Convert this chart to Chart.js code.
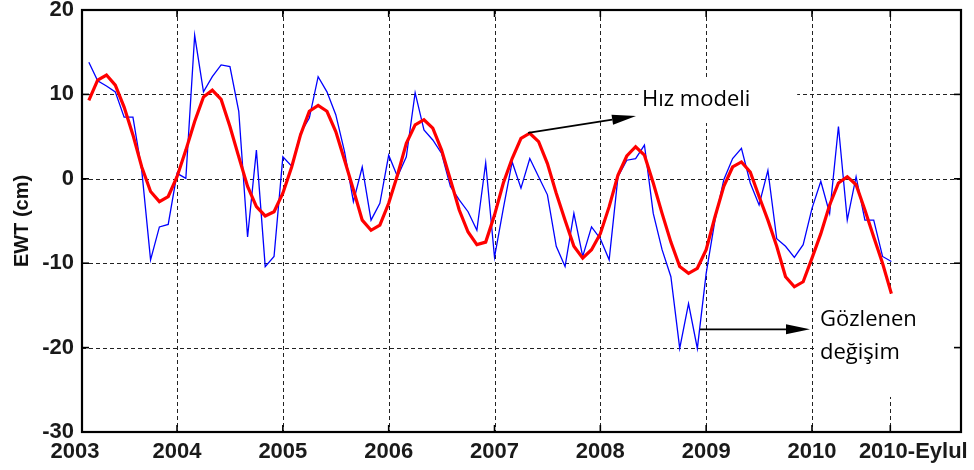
<!DOCTYPE html>
<html>
<head>
<meta charset="utf-8">
<script src="https://cdn.jsdelivr.net/npm/chart.js@4.4.0/dist/chart.umd.min.js"></script>
<style>
  html, body { margin: 0; padding: 0; background: #fff; }
  #wrap { width: 974px; height: 470px; }
</style>
</head>
<body>
<div id="wrap"><canvas id="ewt-chart" width="974" height="470"></canvas></div>
<script>
// monthly samples, 2003-03 .. 2010-10
const firstMonth = [2003, 3];
const monthCount = 92;

// observed EWT change (cm), blue
const observed = [
  13.8, 11.6, 11.0, 10.3, 7.3, 7.3, 1.0, -9.6, -5.7, -5.4,
  0.65, 0.05, 17.0, 10.3, 12.1, 13.5, 13.3, 8.0, -6.9, 3.4,
  -10.4, -9.2, 2.6, 1.5, 5.4, 7.2, 12.1, 10.3, 7.6, 3.2,
  -2.7, 1.4, -4.9, -2.9, 2.8, 0.25, 2.6, 10.2, 5.8, 4.6,
  3.0, -0.9, -2.5, -3.9, -6.1, 1.9, -9.3, -3.5, 2.0, -1.1,
  2.4, 0.25, -1.9, -8.0, -10.4, -4.1, -9.2, -5.7, -7.1, -9.6,
  0.25, 2.2, 2.4, 4.0, -4.1, -8.4, -11.6, -20.1, -14.8, -20.1,
  -11.2, -4.9, -0.1, 2.4, 3.6, -0.5, -3.1, 1.0, -7.1, -8.0,
  -9.3, -7.8, -3.5, -0.3, -4.1, 6.2, -4.9, 0.25, -4.9, -4.9,
  -9.2, -9.8
];

// velocity model (cm), red
const model = [
  9.3, 11.7, 12.3, 11.1, 8.5, 5.2, 1.4, -1.5, -2.7, -2.1,
  0.25, 3.4, 6.8, 9.7, 10.5, 9.4, 6.2, 2.6, -0.9, -3.3,
  -4.4, -3.9, -1.7, 1.4, 5.2, 8.0, 8.7, 8.0, 5.6, 2.2,
  -1.3, -4.9, -6.1, -5.5, -2.9, 0.45, 4.2, 6.4, 7.0, 6.0,
  3.4, -0.1, -3.7, -6.3, -7.8, -7.5, -4.3, -0.5, 2.4, 4.8,
  5.4, 4.4, 1.8, -1.7, -4.9, -8.0, -9.4, -8.4, -6.5, -3.3,
  0.45, 2.7, 3.8, 2.8, -0.5, -4.1, -7.5, -10.4, -11.2, -10.6,
  -8.4, -4.5, -0.9, 1.4, 2.0, 0.8, -2.1, -4.9, -8.0, -11.6,
  -12.8, -12.2, -9.4, -6.5, -3.1, -0.5, 0.25, -0.7, -3.7, -6.9,
  -10.0, -13.6
];

// x axis ticks (decimal years) and their labels
const xTickValues = [2003.102, 2004, 2005, 2006, 2007, 2008, 2009, 2010, 2010.74];
const xTickLabels = ['2003', '2004', '2005', '2006', '2007', '2008', '2009', '2010', '2010-Eylul'];
const xRange = [2003.102, 2011.408];
const yRange = [-30, 20];

// annotations (data units)
const noteTexts = [['Hız modeli'], ['Gözlenen', 'değişim']];
const noteAnchors = [[2008.394, 9.34], [2010.076, -16.73]];
const noteBoxes = [[2008.36, 11.71, 2009.86, 6.61], [2010.02, -13.89, 2011.408, -25.85]];
const arrowFrom = [[2007.317, 5.43], [2008.942, -17.83]];
const arrowTo = [[2008.337, 7.44], [2009.981, -17.83]];

// month labels -> decimal years
let monthLabels = [];
for (let i = 0; i < monthCount; i++) {
  let m = firstMonth[1] - 1 + i;
  let yr = firstMonth[0] + Math.floor(m / 12);
  monthLabels.push(yr + '-' + String((m % 12) + 1).padStart(2, '0'));
}
const monthX = monthLabels.map(function(s) {
  let p = s.split('-');
  return parseInt(p[0]) + (parseInt(p[1]) - 1) / 12;
});

const tickFont = 'bold 22px "Liberation Sans", Arial, sans-serif';

function drawLine(ctx, x1, y1, x2, y2) {
  ctx.beginPath();
  ctx.moveTo(x1, y1);
  ctx.lineTo(x2, y2);
  ctx.stroke();
}

// arrow with filled head, tip at (x2, y2)
function drawArrow(ctx, x1, y1, x2, y2, len, half) {
  let ang = Math.atan2(y2 - y1, x2 - x1);
  let bx = x2 - len * Math.cos(ang), by = y2 - len * Math.sin(ang);
  ctx.lineWidth = 1.8;
  drawLine(ctx, x1, y1, bx, by);
  ctx.beginPath();
  ctx.moveTo(x2, y2);
  ctx.lineTo(bx + half * Math.sin(ang), by - half * Math.cos(ang));
  ctx.lineTo(bx - half * Math.sin(ang), by + half * Math.cos(ang));
  ctx.closePath();
  ctx.fill();
}

// grid, frame, tick marks, x labels and annotations
const ewtDecor = {
  id: 'ewtDecor',
  beforeDatasetsDraw(chart) {
    const {ctx, chartArea: a, scales: {x, y}} = chart;
    ctx.save();
    ctx.strokeStyle = '#222';
    ctx.lineWidth = 1;
    ctx.setLineDash([4, 3]);
    x.ticks.forEach(function(t) {
      let px = Math.round(x.getPixelForValue(t.value)) + 0.5;
      if (px <= a.left + 2 || px >= a.right - 2) return;
      drawLine(ctx, px, a.top, px, a.bottom);
    });
    y.ticks.forEach(function(t) {
      let py = Math.round(y.getPixelForValue(t.value)) + 0.5;
      if (py <= a.top + 2 || py >= a.bottom - 2) return;
      drawLine(ctx, a.left, py, a.right, py);
    });
    ctx.restore();
  },
  afterDatasetsDraw(chart) {
    const {ctx, chartArea: a, scales: {x, y}} = chart;
    ctx.save();

    // white boxes behind the notes
    ctx.fillStyle = '#fff';
    noteBoxes.forEach(function(b) {
      let x1 = x.getPixelForValue(b[0]), y1 = y.getPixelForValue(b[1]);
      let x2 = Math.min(x.getPixelForValue(b[2]), a.right), y2 = y.getPixelForValue(b[3]);
      ctx.fillRect(x1, y1, x2 - x1, y2 - y1);
    });

    // note texts
    ctx.fillStyle = '#000';
    ctx.font = '22px "Open Sans", "Noto Sans", sans-serif';
    ctx.textAlign = 'left';
    ctx.textBaseline = 'middle';
    noteTexts.forEach(function(lines, i) {
      let px = x.getPixelForValue(noteAnchors[i][0]);
      let py = y.getPixelForValue(noteAnchors[i][1]);
      lines.forEach(function(s, k) {
        ctx.fillText(s, px, py + k * 33);
      });
    });

    // arrows
    ctx.strokeStyle = '#000';
    arrowFrom.forEach(function(f, i) {
      drawArrow(ctx,
        x.getPixelForValue(f[0]), y.getPixelForValue(f[1]),
        x.getPixelForValue(arrowTo[i][0]), y.getPixelForValue(arrowTo[i][1]),
        24, 5);
    });

    // frame
    ctx.lineWidth = 2.2;
    ctx.strokeRect(a.left, a.top, a.right - a.left, a.bottom - a.top);

    // inward tick marks
    ctx.lineWidth = 1.6;
    x.ticks.forEach(function(t) {
      let px = x.getPixelForValue(t.value);
      if (px <= a.left + 2) return;
      drawLine(ctx, px, a.bottom, px, a.bottom - 7);
      drawLine(ctx, px, a.top, px, a.top + 7);
    });
    y.ticks.forEach(function(t) {
      let py = y.getPixelForValue(t.value);
      if (py <= a.top + 2 || py >= a.bottom - 2) return;
      drawLine(ctx, a.left, py, a.left + 7, py);
      drawLine(ctx, a.right, py, a.right - 7, py);
    });

    // x tick labels
    const shift = [-7, 0, 0, 0, 0, 0, 0, 0, 23];
    ctx.font = tickFont;
    ctx.fillStyle = '#1a1a1a';
    ctx.textAlign = 'center';
    ctx.textBaseline = 'middle';
    x.ticks.forEach(function(t, i) {
      ctx.fillText(xTickLabels[i], x.getPixelForValue(t.value) + shift[i], a.bottom + 20);
    });
    ctx.restore();
  }
};

const ctx = document.getElementById('ewt-chart').getContext('2d');
const ewtChart = new Chart(ctx, {
  type: 'line',
  data: {
    datasets: [{
      label: 'Hız modeli',
      data: monthX.map(function(v, i) { return {x: v, y: model[i]}; }),
      borderColor: '#ff0000',
      borderWidth: 3.2,
      pointRadius: 0,
      tension: 0,
      order: 0
    }, {
      label: 'Gözlenen değişim',
      data: monthX.map(function(v, i) { return {x: v, y: observed[i]}; }),
      borderColor: '#0000ff',
      borderWidth: 1.3,
      pointRadius: 0,
      tension: 0,
      order: 1
    }]
  },
  options: {
    responsive: false,
    animation: false,
    devicePixelRatio: 1,
    layout: { padding: { top: 10, right: 13, left: 0, bottom: 0 } },
    plugins: { legend: { display: false }, tooltip: { enabled: false } },
    scales: {
      x: {
        type: 'linear',
        min: xRange[0],
        max: xRange[1],
        afterBuildTicks: function(axis) {
          axis.ticks = xTickValues.map(function(v) { return {value: v}; });
        },
        afterFit: function(axis) {
          axis.height = 38;
          axis.paddingLeft = 0;
          axis.paddingRight = 0;
        },
        ticks: { display: false },
        grid: { display: false },
        border: { display: false }
      },
      y: {
        min: yRange[0],
        max: yRange[1],
        afterFit: function(axis) {
          axis.width = 82;
          axis.paddingTop = 0;
          axis.paddingBottom = 0;
        },
        ticks: {
          stepSize: 10,
          padding: 8,
          color: '#1a1a1a',
          font: { family: '"Liberation Sans", Arial, sans-serif', size: 22, weight: 'bold' }
        },
        grid: { display: false, drawTicks: false },
        border: { display: false },
        title: {
          display: true,
          text: 'EWT (cm)',
          color: '#111',
          padding: { top: 10, bottom: 0 },
          font: { family: '"Liberation Sans", Arial, sans-serif', size: 20, weight: 'bold' }
        }
      }
    }
  },
  plugins: [ewtDecor]
});
</script>
</body>
</html>
